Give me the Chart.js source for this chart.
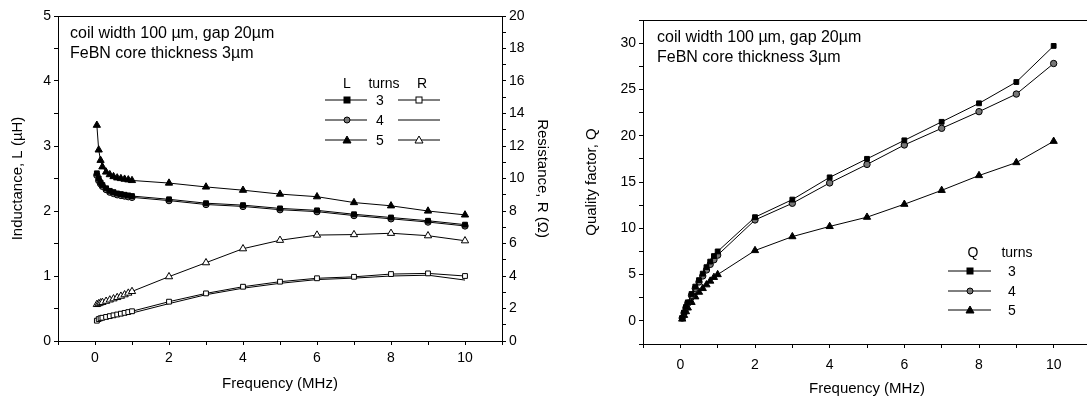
<!DOCTYPE html>
<html>
<head>
<meta charset="utf-8">
<script src="https://cdn.jsdelivr.net/npm/chart.js@4.4.1/dist/chart.umd.min.js"></script>
<style>
  body { margin: 0; width: 1087px; height: 398px; overflow: hidden; background: #fff;
         font-family: "Liberation Sans", Arial, sans-serif; color: #000; }
  .box { position: absolute; top: 0; height: 398px; }
  #leftBox  { left: 0;     width: 560px; }
  #rightBox { left: 560px; width: 540px; }
  .note { position: absolute; font-size: 16px; line-height: 20px; white-space: nowrap; }
  .lg   { position: absolute; font-size: 14px; transform: translate(-50%, -50%); white-space: nowrap; }
  .sym  { position: absolute; transform: translateY(-50%); }
</style>
</head>
<body>
<div class="box" id="leftBox"><canvas id="lChart" width="560" height="398"></canvas></div>
<div class="box" id="rightBox"><canvas id="qChart" width="540" height="398"></canvas></div>

<div class="note" style="left:70px;top:23px">coil width 100 µm, gap 20µm<br>FeBN core thickness 3µm</div>
<div class="note" style="left:657px;top:27px">coil width 100 µm, gap 20µm<br>FeBN core thickness 3µm</div>
<div id="legends"></div>

<script>
// frequencies (MHz), same for every series
const freq = [0.05, 0.1, 0.15, 0.2, 0.3, 0.4, 0.5, 0.6, 0.7, 0.8, 0.9, 1, 2, 3, 4, 5, 6, 7, 8, 9, 10];

// inductance L (µH)
const L3 = [2.58, 2.50, 2.44, 2.40, 2.35, 2.31, 2.29, 2.27, 2.26, 2.25, 2.24, 2.23, 2.18, 2.12, 2.09, 2.04, 2.01, 1.95, 1.90, 1.85, 1.79];
const L4 = [2.55, 2.47, 2.42, 2.38, 2.33, 2.29, 2.27, 2.25, 2.24, 2.23, 2.22, 2.21, 2.16, 2.10, 2.07, 2.02, 1.99, 1.93, 1.88, 1.83, 1.77];
const L5 = [3.32, 2.94, 2.78, 2.68, 2.60, 2.56, 2.53, 2.51, 2.50, 2.49, 2.48, 2.47, 2.43, 2.37, 2.32, 2.26, 2.22, 2.13, 2.08, 2.00, 1.94];

// resistance R (ohm)
const R3 = [1.25, 1.35, 1.40, 1.43, 1.48, 1.53, 1.58, 1.63, 1.68, 1.73, 1.78, 1.83, 2.42, 2.93, 3.34, 3.65, 3.86, 3.95, 4.12, 4.16, 4.00];
const R4 = [1.15, 1.25, 1.30, 1.33, 1.38, 1.43, 1.48, 1.53, 1.58, 1.63, 1.68, 1.72, 2.30, 2.85, 3.25, 3.55, 3.78, 3.87, 4.00, 4.05, 3.75];
const R5 = [2.25, 2.30, 2.35, 2.38, 2.45, 2.53, 2.60, 2.68, 2.76, 2.85, 2.95, 3.05, 3.96, 4.82, 5.68, 6.20, 6.52, 6.55, 6.63, 6.48, 6.17];

// quality factor Q
const Q3 = [0.3, 0.9, 1.5, 2.0, 2.9, 3.7, 4.4, 5.1, 5.8, 6.4, 7.0, 7.5, 11.2, 13.1, 15.5, 17.5, 19.5, 21.5, 23.5, 25.8, 29.7];
const Q4 = [0.3, 0.85, 1.4, 1.9, 2.75, 3.5, 4.2, 4.85, 5.5, 6.1, 6.6, 7.1, 10.9, 12.7, 14.9, 16.9, 19.0, 20.8, 22.6, 24.5, 27.8];
const Q5 = [0.2, 0.6, 1.0, 1.4, 2.0, 2.6, 3.1, 3.5, 3.9, 4.3, 4.7, 5.0, 7.6, 9.1, 10.2, 11.2, 12.6, 14.1, 15.7, 17.1, 19.4];

const turns = ['3', '4', '5'];

const FONT = "'Liberation Sans', Arial, sans-serif";
const tickFont  = { family: FONT, size: 14 };
const titleFont = { family: FONT, size: 15 };

// marker look per turn count
const STYLE = {
  '3': { pointStyle: 'rect',     radius: 3.4 },
  '4': { pointStyle: 'circle',   radius: 3.2 },
  '5': { pointStyle: 'triangle', radius: 4.2 },
};

function pts(ys) {
  return freq.map((f, i) => ({ x: f, y: ys[i] }));
}

function series(label, ys, turn, opts = {}) {
  const st = STYLE[turn];
  return Object.assign({
    label,
    data: pts(ys),
    borderColor: '#000',
    borderWidth: 1,
    pointStyle: st.pointStyle,
    pointRadius: st.radius,
    pointBorderColor: '#000',
    pointBorderWidth: 1,
    pointBackgroundColor: turn === '4' ? '#777' : '#000',
    tension: 0,
  }, opts);
}

// box around the plot area
const framePlugin = {
  id: 'frame',
  afterDraw(chart) {
    const a = chart.chartArea;
    const ctx = chart.ctx;
    ctx.save();
    ctx.strokeStyle = '#000';
    ctx.lineWidth = 1;
    ctx.strokeRect(Math.round(a.left) + 0.5, Math.round(a.top) + 0.5,
                   Math.round(a.right - a.left), Math.round(a.bottom - a.top));
    ctx.restore();
  },
};

function xScale(height, tickPad, titleBottom) {
  return {
    type: 'linear', min: -1, max: 11,
    ticks: {
      stepSize: 1, autoSkip: false, maxRotation: 0, color: '#000', font: tickFont, padding: tickPad,
      callback: v => (v % 2 === 0 && v >= 0 && v <= 10) ? v : '',
    },
    grid: { drawOnChartArea: false, tickLength: 4, tickColor: '#000' },
    border: { color: '#000' },
    title: { display: true, text: 'Frequency (MHz)', color: '#000', font: titleFont,
             padding: { top: 0, bottom: titleBottom } },
    afterFit: s => { s.height = height; },
  };
}

function yScale(pos, min, max, step, labelEvery, title, width, titlePad) {
  return {
    type: 'linear', position: pos, min, max,
    ticks: {
      stepSize: step, autoSkip: false, color: '#000', font: tickFont, padding: 3,
      callback: v => {
        const k = v / labelEvery;
        return (Math.abs(k - Math.round(k)) < 1e-6 && v >= 0) ? v : '';
      },
    },
    grid: { drawOnChartArea: false, tickLength: 4, tickColor: '#000' },
    border: { color: '#000' },
    title: { display: true, text: title, color: '#000', font: titleFont,
             padding: { top: titlePad, bottom: 0 } },
    afterFit: s => { s.width = width; },
  };
}

// left chart: inductance + resistance
new Chart(document.getElementById('lChart'), {
  type: 'line',
  data: {
    datasets: [
      series('L 3', L3, '3'),
      series('L 4', L4, '4'),
      series('L 5', L5, '5'),
      series('R 3', R3, '3', { yAxisID: 'y2', pointBackgroundColor: '#fff' }),
      series('R 4', R4, '4', { yAxisID: 'y2', pointRadius: 0 }),
      series('R 5', R5, '5', { yAxisID: 'y2', pointBackgroundColor: '#fff' }),
    ],
  },
  options: {
    responsive: false,
    animation: false,
    layout: { padding: { top: 16, left: 0, right: 0, bottom: 0 } },
    plugins: { legend: { display: false }, tooltip: { enabled: false } },
    scales: {
      x: xScale(57, 5, 5),
      y: yScale('left', 0, 5, 0.5, 1, 'Inductance, L (µH)', 58, 9),
      y2: yScale('right', 0, 20, 1, 2, 'Resistance, R (Ω)', 58, 9),
    },
  },
  plugins: [framePlugin],
});

// right chart: quality factor
new Chart(document.getElementById('qChart'), {
  type: 'line',
  data: {
    datasets: [
      series('Q 3', Q3, '3'),
      series('Q 4', Q4, '4'),
      series('Q 5', Q5, '5'),
    ],
  },
  options: {
    responsive: false,
    animation: false,
    layout: { padding: { top: 20, left: 0, right: 7, bottom: 0 } },
    plugins: { legend: { display: false }, tooltip: { enabled: false } },
    scales: {
      x: xScale(54, 9, 0),
      y: yScale('left', -2.5, 32.5, 2.5, 5, 'Quality factor, Q', 83, 23),
    },
  },
  plugins: [framePlugin],
});

// legends (HTML text + small svg samples)
function sample(shape, fill, w, mx) {
  let m = '';
  if (shape === 'rect') m = `<rect x="${mx - 3}" y="2" width="6" height="6" fill="${fill}" stroke="#000"/>`;
  if (shape === 'circle') m = `<circle cx="${mx}" cy="5" r="3" fill="${fill}" stroke="#000"/>`;
  if (shape === 'triangle') m = `<polygon points="${mx - 4},8 ${mx + 4},8 ${mx},1" fill="${fill}" stroke="#000"/>`;
  return `<svg width="${w}" height="10"><line x1="0" y1="5" x2="${w}" y2="5" stroke="#000" stroke-width="1"/>${m}</svg>`;
}

const legendEl = document.getElementById('legends');
let html = '';
html += `<div class="lg" style="left:347px;top:83px">L</div>`;
html += `<div class="lg" style="left:384px;top:83px">turns</div>`;
html += `<div class="lg" style="left:422px;top:83px">R</div>`;
html += `<div class="lg" style="left:973px;top:252px">Q</div>`;
html += `<div class="lg" style="left:1017px;top:252px">turns</div>`;
const lRows = [100, 120, 140];
const qRows = [271, 291, 310];
turns.forEach((t, i) => {
  const st = STYLE[t];
  const fillL = t === '4' ? '#777' : '#000';
  html += `<div class="sym" style="left:325px;top:${lRows[i]}px">${sample(st.pointStyle, fillL, 42, 22)}</div>`;
  html += `<div class="lg" style="left:380px;top:${lRows[i]}px">${t}</div>`;
  html += `<div class="sym" style="left:398px;top:${lRows[i]}px">${t === '4' ? sample('', '', 42, 21) : sample(st.pointStyle, '#fff', 42, 21)}</div>`;
  html += `<div class="sym" style="left:948px;top:${qRows[i]}px">${sample(st.pointStyle, fillL, 43, 22)}</div>`;
  html += `<div class="lg" style="left:1012px;top:${qRows[i]}px">${t}</div>`;
});
legendEl.innerHTML = html;
</script>
</body>
</html>
